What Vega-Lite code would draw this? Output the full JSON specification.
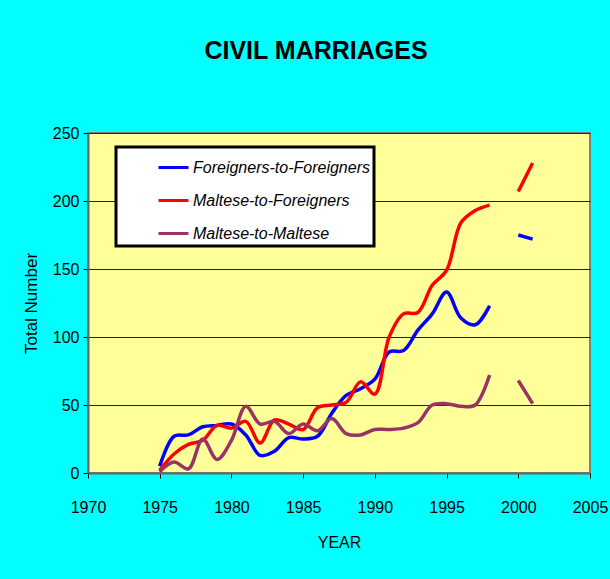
{
  "$schema": "https://vega.github.io/schema/vega-lite/v6.json",
  "width": 502,
  "height": 340,
  "autosize": {"type": "none"},
  "padding": {"left": 88, "top": 133, "right": 20, "bottom": 106},
  "background": "#00FFFF",
  "title": {
    "text": "CIVIL MARRIAGES",
    "font": "'Liberation Sans', Arial",
    "fontSize": 25,
    "fontWeight": "bold",
    "color": "#000000",
    "anchor": "middle",
    "frame": "group",
    "dx": -23,
    "offset": 61
  },
  "config": {
    "view": {"fill": "#FFFF99", "stroke": "#808080", "strokeWidth": 2},
    "font": "'Liberation Sans', Arial"
  },
  "data": {
    "values": [
      {"year": 1975, "series": "Foreigners-to-Foreigners", "value": 5},
      {"year": 1976, "series": "Foreigners-to-Foreigners", "value": 27},
      {"year": 1977, "series": "Foreigners-to-Foreigners", "value": 28},
      {"year": 1978, "series": "Foreigners-to-Foreigners", "value": 34},
      {"year": 1979, "series": "Foreigners-to-Foreigners", "value": 35},
      {"year": 1980, "series": "Foreigners-to-Foreigners", "value": 36},
      {"year": 1981, "series": "Foreigners-to-Foreigners", "value": 28},
      {"year": 1982, "series": "Foreigners-to-Foreigners", "value": 13},
      {"year": 1983, "series": "Foreigners-to-Foreigners", "value": 16},
      {"year": 1984, "series": "Foreigners-to-Foreigners", "value": 26},
      {"year": 1985, "series": "Foreigners-to-Foreigners", "value": 25},
      {"year": 1986, "series": "Foreigners-to-Foreigners", "value": 27},
      {"year": 1987, "series": "Foreigners-to-Foreigners", "value": 44},
      {"year": 1988, "series": "Foreigners-to-Foreigners", "value": 57},
      {"year": 1989, "series": "Foreigners-to-Foreigners", "value": 62},
      {"year": 1990, "series": "Foreigners-to-Foreigners", "value": 69},
      {"year": 1991, "series": "Foreigners-to-Foreigners", "value": 89},
      {"year": 1992, "series": "Foreigners-to-Foreigners", "value": 90},
      {"year": 1993, "series": "Foreigners-to-Foreigners", "value": 105},
      {"year": 1994, "series": "Foreigners-to-Foreigners", "value": 117},
      {"year": 1995, "series": "Foreigners-to-Foreigners", "value": 133},
      {"year": 1996, "series": "Foreigners-to-Foreigners", "value": 114},
      {"year": 1997, "series": "Foreigners-to-Foreigners", "value": 109},
      {"year": 1998, "series": "Foreigners-to-Foreigners", "value": 123},
      {"year": 1999, "series": "Foreigners-to-Foreigners", "value": null},
      {"year": 2000, "series": "Foreigners-to-Foreigners", "value": 175},
      {"year": 2001, "series": "Foreigners-to-Foreigners", "value": 172},
      {"year": 1975, "series": "Maltese-to-Foreigners", "value": 2},
      {"year": 1976, "series": "Maltese-to-Foreigners", "value": 14},
      {"year": 1977, "series": "Maltese-to-Foreigners", "value": 21},
      {"year": 1978, "series": "Maltese-to-Foreigners", "value": 24},
      {"year": 1979, "series": "Maltese-to-Foreigners", "value": 35},
      {"year": 1980, "series": "Maltese-to-Foreigners", "value": 33},
      {"year": 1981, "series": "Maltese-to-Foreigners", "value": 38},
      {"year": 1982, "series": "Maltese-to-Foreigners", "value": 22},
      {"year": 1983, "series": "Maltese-to-Foreigners", "value": 39},
      {"year": 1984, "series": "Maltese-to-Foreigners", "value": 36},
      {"year": 1985, "series": "Maltese-to-Foreigners", "value": 32},
      {"year": 1986, "series": "Maltese-to-Foreigners", "value": 48},
      {"year": 1987, "series": "Maltese-to-Foreigners", "value": 50},
      {"year": 1988, "series": "Maltese-to-Foreigners", "value": 52},
      {"year": 1989, "series": "Maltese-to-Foreigners", "value": 67},
      {"year": 1990, "series": "Maltese-to-Foreigners", "value": 58},
      {"year": 1991, "series": "Maltese-to-Foreigners", "value": 100},
      {"year": 1992, "series": "Maltese-to-Foreigners", "value": 117},
      {"year": 1993, "series": "Maltese-to-Foreigners", "value": 118},
      {"year": 1994, "series": "Maltese-to-Foreigners", "value": 138},
      {"year": 1995, "series": "Maltese-to-Foreigners", "value": 149},
      {"year": 1996, "series": "Maltese-to-Foreigners", "value": 184},
      {"year": 1997, "series": "Maltese-to-Foreigners", "value": 193},
      {"year": 1998, "series": "Maltese-to-Foreigners", "value": 197},
      {"year": 1999, "series": "Maltese-to-Foreigners", "value": null},
      {"year": 2000, "series": "Maltese-to-Foreigners", "value": 207},
      {"year": 2001, "series": "Maltese-to-Foreigners", "value": 228},
      {"year": 1975, "series": "Maltese-to-Maltese", "value": 1},
      {"year": 1976, "series": "Maltese-to-Maltese", "value": 8},
      {"year": 1977, "series": "Maltese-to-Maltese", "value": 3},
      {"year": 1978, "series": "Maltese-to-Maltese", "value": 25},
      {"year": 1979, "series": "Maltese-to-Maltese", "value": 10},
      {"year": 1980, "series": "Maltese-to-Maltese", "value": 24},
      {"year": 1981, "series": "Maltese-to-Maltese", "value": 49},
      {"year": 1982, "series": "Maltese-to-Maltese", "value": 36},
      {"year": 1983, "series": "Maltese-to-Maltese", "value": 38},
      {"year": 1984, "series": "Maltese-to-Maltese", "value": 29},
      {"year": 1985, "series": "Maltese-to-Maltese", "value": 36},
      {"year": 1986, "series": "Maltese-to-Maltese", "value": 31},
      {"year": 1987, "series": "Maltese-to-Maltese", "value": 40},
      {"year": 1988, "series": "Maltese-to-Maltese", "value": 29},
      {"year": 1989, "series": "Maltese-to-Maltese", "value": 28},
      {"year": 1990, "series": "Maltese-to-Maltese", "value": 32},
      {"year": 1991, "series": "Maltese-to-Maltese", "value": 32},
      {"year": 1992, "series": "Maltese-to-Maltese", "value": 33},
      {"year": 1993, "series": "Maltese-to-Maltese", "value": 37},
      {"year": 1994, "series": "Maltese-to-Maltese", "value": 50},
      {"year": 1995, "series": "Maltese-to-Maltese", "value": 51},
      {"year": 1996, "series": "Maltese-to-Maltese", "value": 49},
      {"year": 1997, "series": "Maltese-to-Maltese", "value": 50},
      {"year": 1998, "series": "Maltese-to-Maltese", "value": 72},
      {"year": 1999, "series": "Maltese-to-Maltese", "value": null},
      {"year": 2000, "series": "Maltese-to-Maltese", "value": 68},
      {"year": 2001, "series": "Maltese-to-Maltese", "value": 51}
    ]
  },
  "mark": {
    "type": "line",
    "interpolate": "catmull-rom",
    "strokeWidth": 3.5,
    "invalid": "break-paths-show-domains"
  },
  "encoding": {
    "x": {
      "field": "year",
      "type": "quantitative",
      "scale": {"domain": [1970, 2005], "nice": false, "zero": false},
      "axis": {
        "title": "YEAR",
        "values": [1970, 1975, 1980, 1985, 1990, 1995, 2000, 2005],
        "format": "d",
        "grid": false,
        "domainColor": "#666666",
        "domainWidth": 2,
        "tickColor": "#000000",
        "tickSize": 5,
        "labelFontSize": 16,
        "labelColor": "#000000",
        "labelPadding": 21,
        "labelFlush": false,
        "titleFontSize": 16,
        "titleFontWeight": "normal",
        "titleColor": "#000000",
        "titlePadding": 19
      }
    },
    "y": {
      "field": "value",
      "type": "quantitative",
      "scale": {"domain": [0, 250], "nice": false},
      "axis": {
        "title": "Total Number",
        "values": [0, 50, 100, 150, 200, 250],
        "grid": true,
        "gridColor": "#222222",
        "gridWidth": 1,
        "domainColor": "#666666",
        "domainWidth": 2,
        "tickColor": "#000000",
        "tickSize": 5,
        "labelFontSize": 16,
        "labelColor": "#000000",
        "labelPadding": 4,
        "titleFontSize": 17,
        "titleFontWeight": "normal",
        "titleColor": "#000000",
        "titlePadding": 12
      }
    },
    "color": {
      "field": "series",
      "type": "nominal",
      "scale": {
        "domain": ["Foreigners-to-Foreigners", "Maltese-to-Foreigners", "Maltese-to-Maltese"],
        "range": ["#0000FF", "#FF0000", "#993366"]
      },
      "legend": {
        "title": null,
        "orient": "none",
        "legendX": 28,
        "legendY": 14,
        "fillColor": "#FFFFFF",
        "strokeColor": "#000000",
        "padding": 4,
        "symbolOffset": 37,
        "symbolType": "stroke",
        "symbolSize": 900,
        "symbolStrokeWidth": 3,
        "labelFontSize": 16,
        "labelFontStyle": "italic",
        "labelColor": "#000000",
        "labelOffset": 3,
        "labelLimit": 400,
        "rowPadding": 8,
        "encode": {"legend": {"update": {"strokeWidth": {"value": 3}}}}
      }
    }
  }
}
